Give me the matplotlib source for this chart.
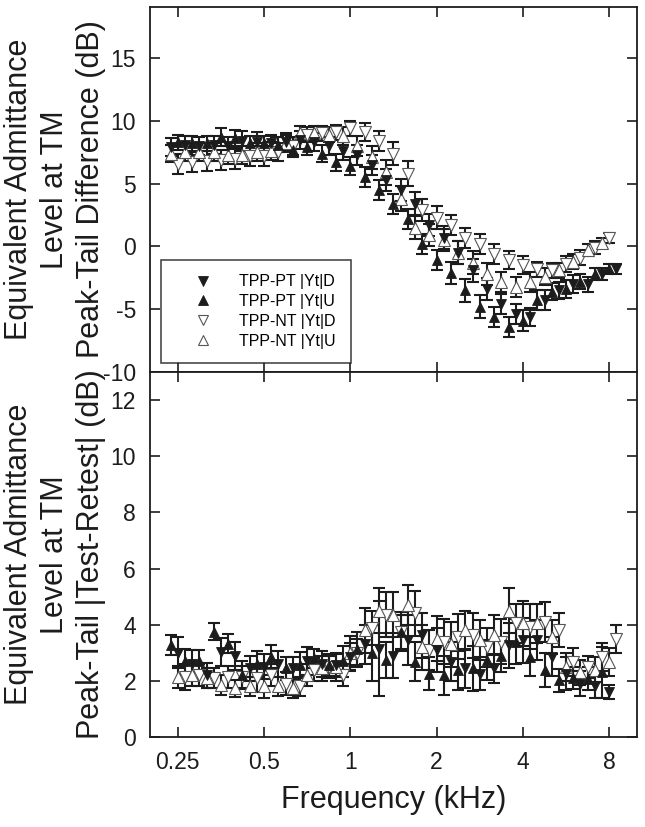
import numpy as np
import matplotlib
matplotlib.use("Agg")
import matplotlib.pyplot as plt
from matplotlib.lines import Line2D

plt.rcParams['font.family'] = ['Liberation Sans', 'DejaVu Sans']

# ---------------- data ----------------
FREQ_A = [0.250, 0.281, 0.315, 0.354, 0.397, 0.445, 0.500, 0.561, 0.630, 0.707, 0.794,
          0.891, 1.000, 1.122, 1.260, 1.414, 1.587, 1.782, 2.000, 2.245, 2.520, 2.828,
          3.175, 3.564, 4.000, 4.490, 5.040, 5.657, 6.350, 7.127, 8.000]
FREQ_B = [0.236, 0.265, 0.297, 0.334, 0.375, 0.420, 0.472, 0.530, 0.595, 0.667, 0.749,
          0.841, 0.944, 1.059, 1.189, 1.335, 1.498, 1.682, 1.888, 2.119, 2.378, 2.670,
          2.997, 3.364, 3.776, 4.238, 4.757, 5.339, 5.993, 6.727, 7.551, 8.476]

labels = ["TPP-PT |Yt|D", "TPP-PT |Yt|U", "TPP-NT |Yt|D", "TPP-NT |Yt|U"]

# top panel: peak-tail difference (dB)
top_pt_d = [7.9, 8.1, 8.0, 8.1, 8.0, 8.4, 8.3, 8.2, 8.3, 8.5, 8.3, 8.0, 7.6, 7.3, 6.5, 5.3,
            4.5, 3.4, 1.7, 0.7, -0.5, -1.9, -3.4, -4.6, -5.4, -5.6, -4.3, -3.5, -3.0, -3.0,
            -2.2, -1.8]
top_pt_d_err = [0.7, 0.7, 0.7, 0.7, 0.7, 0.8, 0.8, 0.7, 0.7, 0.7, 0.7, 0.7, 0.7, 0.8, 0.8, 0.9,
                0.9, 0.9, 0.9, 0.9, 0.9, 0.9, 0.9, 0.8, 0.8, 0.7, 0.8, 0.7, 0.7, 0.6, 0.5, 0.4]
top_pt_u = [8.3, 8.2, 8.2, 8.7, 8.6, 8.2, 8.2, 8.1, 7.7, 7.9, 7.4, 6.7, 6.4, 5.5, 4.5, 3.4,
            2.2, 0.2, -1.1, -2.1, -3.5, -4.8, -5.6, -6.4, -5.9, -4.3, -3.6, -3.4, -2.8, -2.2,
            -1.8]
top_pt_u_err = [0.6, 0.6, 0.6, 0.7, 0.7, 0.6, 0.6, 0.6, 0.6, 0.6, 0.7, 0.7, 0.7, 0.8, 0.8, 0.8,
                0.8, 0.8, 0.8, 0.9, 0.9, 0.9, 0.8, 0.8, 0.8, 0.8, 0.7, 0.7, 0.6, 0.5, 0.4]
top_nt_d = [6.6, 6.7, 6.8, 6.9, 7.0, 7.2, 7.2, 7.5, 8.0, 8.9, 9.0, 9.1, 9.4, 9.1, 8.4, 7.4,
            5.8, 2.9, 2.3, 1.7, 0.7, 0.2, -0.6, -1.1, -1.5, -1.8, -1.9, -1.4, -0.9, -0.1, 0.7]
top_nt_d_err = [0.8, 0.8, 0.8, 0.8, 0.8, 0.8, 0.8, 0.7, 0.7, 0.6, 0.6, 0.6, 0.6, 0.7, 0.8, 0.9,
                1.0, 0.9, 0.9, 0.8, 0.8, 0.8, 0.8, 0.7, 0.7, 0.6, 0.6, 0.6, 0.6, 0.5, 0.4]
top_nt_u = [7.4, 7.5, 7.5, 7.5, 7.3, 7.3, 7.5, 7.6, 8.2, 9.0, 9.0, 8.9, 8.8, 8.0, 7.1, 5.9,
            3.8, 1.5, 0.9, 0.5, -0.5, -1.3, -2.2, -2.8, -3.2, -2.8, -2.4, -1.9, -1.2, -0.3, 0.3]
top_nt_u_err = [0.7, 0.7, 0.7, 0.7, 0.7, 0.7, 0.7, 0.7, 0.7, 0.6, 0.6, 0.6, 0.7, 0.8, 0.9, 1.0,
                1.0, 0.9, 0.9, 0.9, 0.9, 0.9, 0.9, 0.8, 0.8, 0.8, 0.7, 0.6, 0.6, 0.5, 0.4]

# bottom panel: |test-retest| (dB)
bot_pt_d = [3.0, 2.6, 2.2, 3.04, 2.9, 2.44, 2.5, 2.6, 2.44, 2.7, 2.6, 2.56, 2.86, 3.3, 3.15,
            2.9, 3.45, 3.63, 3.1, 2.68, 2.44, 2.26, 2.44, 3.27, 3.45, 3.45, 2.86, 2.26, 1.9,
            1.8, 1.6]
bot_pt_d_err = [0.55, 0.5, 0.45, 0.5, 0.5, 0.45, 0.45, 0.45, 0.4, 0.5, 0.45, 0.4, 0.5, 0.7, 1.7,
                0.8, 0.9, 0.8, 0.8, 0.7, 0.7, 0.6, 0.5, 0.8, 0.8, 0.7, 0.7, 0.6, 0.45, 0.4, 0.25]
bot_pt_u = [3.27, 2.7, 2.7, 3.75, 3.33, 2.2, 2.6, 2.86, 2.44, 2.56, 2.8, 2.56, 2.7, 3.15, 2.98,
            2.74, 3.75, 2.68, 2.26, 2.2, 2.38, 2.44, 2.74, 2.9, 3.4, 2.86, 2.38, 2.02, 2.1,
            2.08, 2.3]
bot_pt_u_err = [0.35, 0.45, 0.4, 0.3, 0.35, 0.5, 0.45, 0.4, 0.4, 0.45, 0.35, 0.4, 0.55, 0.6, 1.0,
                0.65, 0.6, 0.7, 0.6, 0.7, 0.7, 0.8, 0.7, 0.6, 0.8, 0.7, 0.6, 0.4, 0.4, 0.4, 0.9]
bot_nt_d = [2.14, 2.2, 2.1, 2.14, 2.14, 2.1, 2.2, 1.9, 1.8, 2.4, 2.5, 2.2, 3.0, 3.87, 4.35,
            3.75, 4.4, 3.1, 3.4, 3.57, 3.63, 3.2, 3.4, 4.05, 3.93, 4.1, 3.8, 2.68, 2.5, 2.86,
            3.5]
bot_nt_d_err = [0.45, 0.4, 0.35, 0.4, 0.4, 0.5, 0.4, 0.4, 0.35, 0.4, 0.4, 0.4, 0.5, 0.6, 0.8,
                0.7, 0.8, 0.7, 0.8, 0.8, 0.8, 0.7, 0.8, 0.7, 0.8, 0.7, 0.6, 0.5, 0.4, 0.5, 0.5]
bot_nt_u = [2.14, 2.2, 2.1, 1.85, 1.73, 1.8, 1.8, 1.8, 1.73, 2.2, 2.44, 2.5, 2.98, 3.8, 4.5,
            4.35, 4.7, 3.2, 3.5, 3.3, 3.8, 3.45, 3.63, 4.5, 4.05, 4.05, 3.57, 2.5, 2.3, 2.4,
            2.68]
bot_nt_u_err = [0.4, 0.4, 0.35, 0.35, 0.3, 0.35, 0.4, 0.35, 0.35, 0.4, 0.45, 0.5, 0.6, 0.8, 0.8,
                0.8, 0.7, 0.8, 0.8, 0.8, 0.7, 0.7, 0.7, 0.8, 0.8, 0.7, 0.6, 0.5, 0.45, 0.45, 0.5]

xticks = [0.25, 0.5, 1, 2, 4, 8]
xticklabels = ["0.25", "0.5", "1", "2", "4", "8"]

# ---------------- styling ----------------
ink = "#1c1c1c"
styles = {
    "pt_d": dict(marker="v", mfc=ink, mec=ink, mew=0.6, ms=7.5),
    "pt_u": dict(marker="^", mfc=ink, mec=ink, mew=0.6, ms=7.5),
    "nt_d": dict(marker="v", mfc="white", mec="#555555", mew=0.8, ms=8.5),
    "nt_u": dict(marker="^", mfc="white", mec="#555555", mew=0.8, ms=8.5),
}

fig = plt.figure(figsize=(6.45, 8.27), dpi=100)
W, H = 645.0, 827.0
ax_top = fig.add_axes([150 / W, 1 - 372 / H, 487 / W, 365 / H])
ax_bot = fig.add_axes([150 / W, 1 - 737 / H, 487 / W, 365 / H])


def draw(ax, series):
    for x, y, e, key in series:
        ax.errorbar(x, y, yerr=e, fmt="none", ecolor=ink, elinewidth=1.5,
                    capsize=4.0, capthick=1.5, zorder=2)
    for x, y, e, key in series:
        ax.plot(x, y, ls="none", zorder=3, **styles[key])


draw(ax_top, [
    (FREQ_A, top_nt_d, top_nt_d_err, "nt_d"),
    (FREQ_B[:31], top_nt_u, top_nt_u_err, "nt_u"),
    (FREQ_B, top_pt_d, top_pt_d_err, "pt_d"),
    (FREQ_A, top_pt_u, top_pt_u_err, "pt_u"),
])
draw(ax_bot, [
    (FREQ_B[1:], bot_nt_d, bot_nt_d_err, "nt_d"),
    (FREQ_A, bot_nt_u, bot_nt_u_err, "nt_u"),
    (FREQ_A, bot_pt_d, bot_pt_d_err, "pt_d"),
    (FREQ_B[:31], bot_pt_u, bot_pt_u_err, "pt_u"),
])

for ax in (ax_top, ax_bot):
    ax.set_xscale("log")
    ax.set_xlim(0.2, 10)
    ax.set_xticks(xticks)
    ax.xaxis.set_minor_locator(matplotlib.ticker.NullLocator())
    ax.tick_params(axis="both", which="both", direction="in", top=True, right=True,
                   length=7, width=1.2, labelsize=16.5, colors=ink, pad=10)
    for sp in ax.spines.values():
        sp.set_linewidth(1.3)
        sp.set_color(ink)

ax_top.set_xticklabels([])
ax_bot.set_xticklabels(xticklabels)

ax_top.set_ylim(-10, 19.07)
ax_top.set_yticks([-10, -5, 0, 5, 10, 15])
ax_top.set_yticklabels(["-10", "-5", "0", "5", "10", "15"])
ax_bot.set_ylim(0, 13)
ax_bot.set_yticks([0, 2, 4, 6, 8, 10, 12])

lab_kw = dict(fontsize=22, linespacing=1.26, color=ink)
ax_top.set_ylabel("Equivalent Admittance\nLevel at TM\nPeak-Tail Difference (dB)", **lab_kw)
ax_bot.set_ylabel("Equivalent Admittance\nLevel at TM\nPeak-Tail |Test-Retest| (dB)", **lab_kw)
ax_top.yaxis.set_label_coords(-0.091, 0.5)
ax_bot.yaxis.set_label_coords(-0.091, 0.5)
ax_bot.set_xlabel("Frequency (kHz)", fontsize=22, color=ink, labelpad=8)

handles = [Line2D([], [], ls="none", **dict(styles[k], ms=6.5 if k.startswith("pt") else 7))
           for k in ("pt_d", "pt_u", "nt_d", "nt_u")]
leg = ax_top.legend(handles, labels, loc="lower left",
                    bbox_to_anchor=(11 / 487, 9 / 365, 190 / 487, 100 / 365),
                    mode="expand", borderaxespad=0, fontsize=11.5, frameon=True,
                    fancybox=False, edgecolor=ink, borderpad=0.9, handlelength=3.4,
                    handletextpad=0.6, labelspacing=0.3)
leg.get_frame().set_linewidth(1.2)

fig.savefig("out.png", dpi=100)
